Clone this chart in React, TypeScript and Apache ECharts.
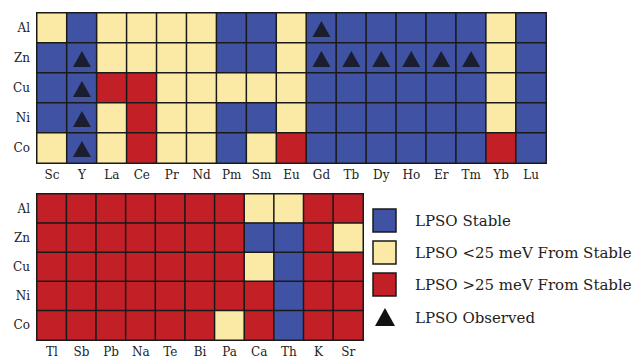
import React, { useEffect, useRef } from "react";
import * as echarts from "echarts";

const rows = ["Al", "Zn", "Cu", "Ni", "Co"];
const topCols = ["Sc", "Y", "La", "Ce", "Pr", "Nd", "Pm", "Sm", "Eu", "Gd", "Tb", "Dy", "Ho", "Er", "Tm", "Yb", "Lu"];
const bottomCols = ["Tl", "Sb", "Pb", "Na", "Te", "Bi", "Pa", "Ca", "Th", "K", "Sr"];

// 0 = LPSO Stable, 1 = <25 meV, 2 = >25 meV
const topStatus: number[][] = [
  [1, 0, 1, 1, 1, 1, 0, 0, 1, 0, 0, 0, 0, 0, 0, 1, 0],
  [0, 0, 1, 1, 1, 1, 0, 0, 1, 0, 0, 0, 0, 0, 0, 1, 0],
  [0, 0, 2, 2, 1, 1, 1, 1, 1, 0, 0, 0, 0, 0, 0, 1, 0],
  [0, 0, 1, 2, 1, 1, 0, 0, 1, 0, 0, 0, 0, 0, 0, 1, 0],
  [1, 0, 1, 2, 1, 1, 0, 1, 2, 0, 0, 0, 0, 0, 0, 2, 0],
];
const bottomStatus: number[][] = [
  [2, 2, 2, 2, 2, 2, 2, 1, 1, 2, 2],
  [2, 2, 2, 2, 2, 2, 2, 0, 0, 2, 1],
  [2, 2, 2, 2, 2, 2, 2, 1, 0, 2, 2],
  [2, 2, 2, 2, 2, 2, 2, 2, 0, 2, 2],
  [2, 2, 2, 2, 2, 2, 1, 2, 0, 2, 2],
];
const observed: [string, string][] = [
  ["Y", "Zn"], ["Y", "Cu"], ["Y", "Ni"], ["Y", "Co"],
  ["Gd", "Al"],
  ["Gd", "Zn"], ["Tb", "Zn"], ["Dy", "Zn"], ["Ho", "Zn"], ["Er", "Zn"], ["Tm", "Zn"],
];
const legendLabels = ["LPSO Stable", "LPSO <25 meV From Stable", "LPSO >25 meV From Stable", "LPSO Observed"];
const colors = ["#3f52a4", "#fbeaa6", "#c21f27"];

const FONT = "DejaVu Serif";

function toCells(status: number[][]) {
  const out: [number, number, number][] = [];
  status.forEach((row, r) => row.forEach((v, c) => out.push([c, r, v])));
  return out;
}

export default function App() {
  const ref = useRef<HTMLDivElement>(null);
  useEffect(() => {
    document.body.style.margin = "0";
    const chart = echarts.init(ref.current!, null, { renderer: "svg" });
    const axisLabel = { color: "#222", fontFamily: FONT, fontSize: 12 };
    const xAxisBase = {
      type: "category" as const,
      axisLine: { show: false },
      axisTick: { show: false },
      splitLine: { show: false },
      axisLabel: { ...axisLabel, margin: 6 },
    };
    const yAxisBase = {
      type: "category" as const,
      data: rows,
      inverse: true,
      axisLine: { show: false },
      axisTick: { show: false },
      axisLabel: { ...axisLabel, margin: 7 },
    };
    const legendY = [220, 252, 284];
    const graphics: any[] = [];
    legendY.forEach((y, i) => {
      graphics.push({
        type: "rect",
        shape: { x: 373, y: y - 11, width: 23, height: 23 },
        style: { fill: colors[i], stroke: "#1a1a1a", lineWidth: 1.5 },
      });
      graphics.push({
        type: "text",
        x: 415,
        y: y + 1,
        style: { text: legendLabels[i], font: `15px "${FONT}"`, fill: "#222", verticalAlign: "middle" },
      });
    });
    graphics.push({
      type: "polygon",
      shape: { points: [[385, 308], [375, 326], [395, 326]] },
      style: { fill: "#111" },
    });
    graphics.push({
      type: "text",
      x: 415,
      y: 318,
      style: { text: legendLabels[3], font: `15px "${FONT}"`, fill: "#222", verticalAlign: "middle" },
    });

    chart.setOption({
      animation: false,
      grid: [
        { left: 37, top: 13, width: 509, height: 150 },
        { left: 37, top: 194, width: 326, height: 148 },
      ],
      xAxis: [
        { ...xAxisBase, gridIndex: 0, data: topCols },
        { ...xAxisBase, gridIndex: 1, data: bottomCols },
      ],
      yAxis: [
        { ...yAxisBase, gridIndex: 0 },
        { ...yAxisBase, gridIndex: 1 },
      ],
      visualMap: {
        type: "piecewise",
        show: false,
        dimension: 2,
        seriesIndex: [0, 1],
        pieces: [
          { value: 0, color: colors[0] },
          { value: 1, color: colors[1] },
          { value: 2, color: colors[2] },
        ],
      },
      series: [
        {
          type: "heatmap",
          xAxisIndex: 0,
          yAxisIndex: 0,
          data: toCells(topStatus),
          itemStyle: { borderColor: "#1a1a1a", borderWidth: 1.5 },
          emphasis: { disabled: true },
        },
        {
          type: "heatmap",
          xAxisIndex: 1,
          yAxisIndex: 1,
          data: toCells(bottomStatus),
          itemStyle: { borderColor: "#1a1a1a", borderWidth: 1.5 },
          emphasis: { disabled: true },
        },
        {
          type: "scatter",
          xAxisIndex: 0,
          yAxisIndex: 0,
          symbol: "triangle",
          symbolSize: [18, 16],
          symbolOffset: [0, 1],
          itemStyle: { color: "#111" },
          data: observed,
          z: 5,
        },
      ],
      graphic: graphics,
    });
    return () => chart.dispose();
  }, []);
  return <div ref={ref} style={{ width: 637, height: 358 }} />;
}
